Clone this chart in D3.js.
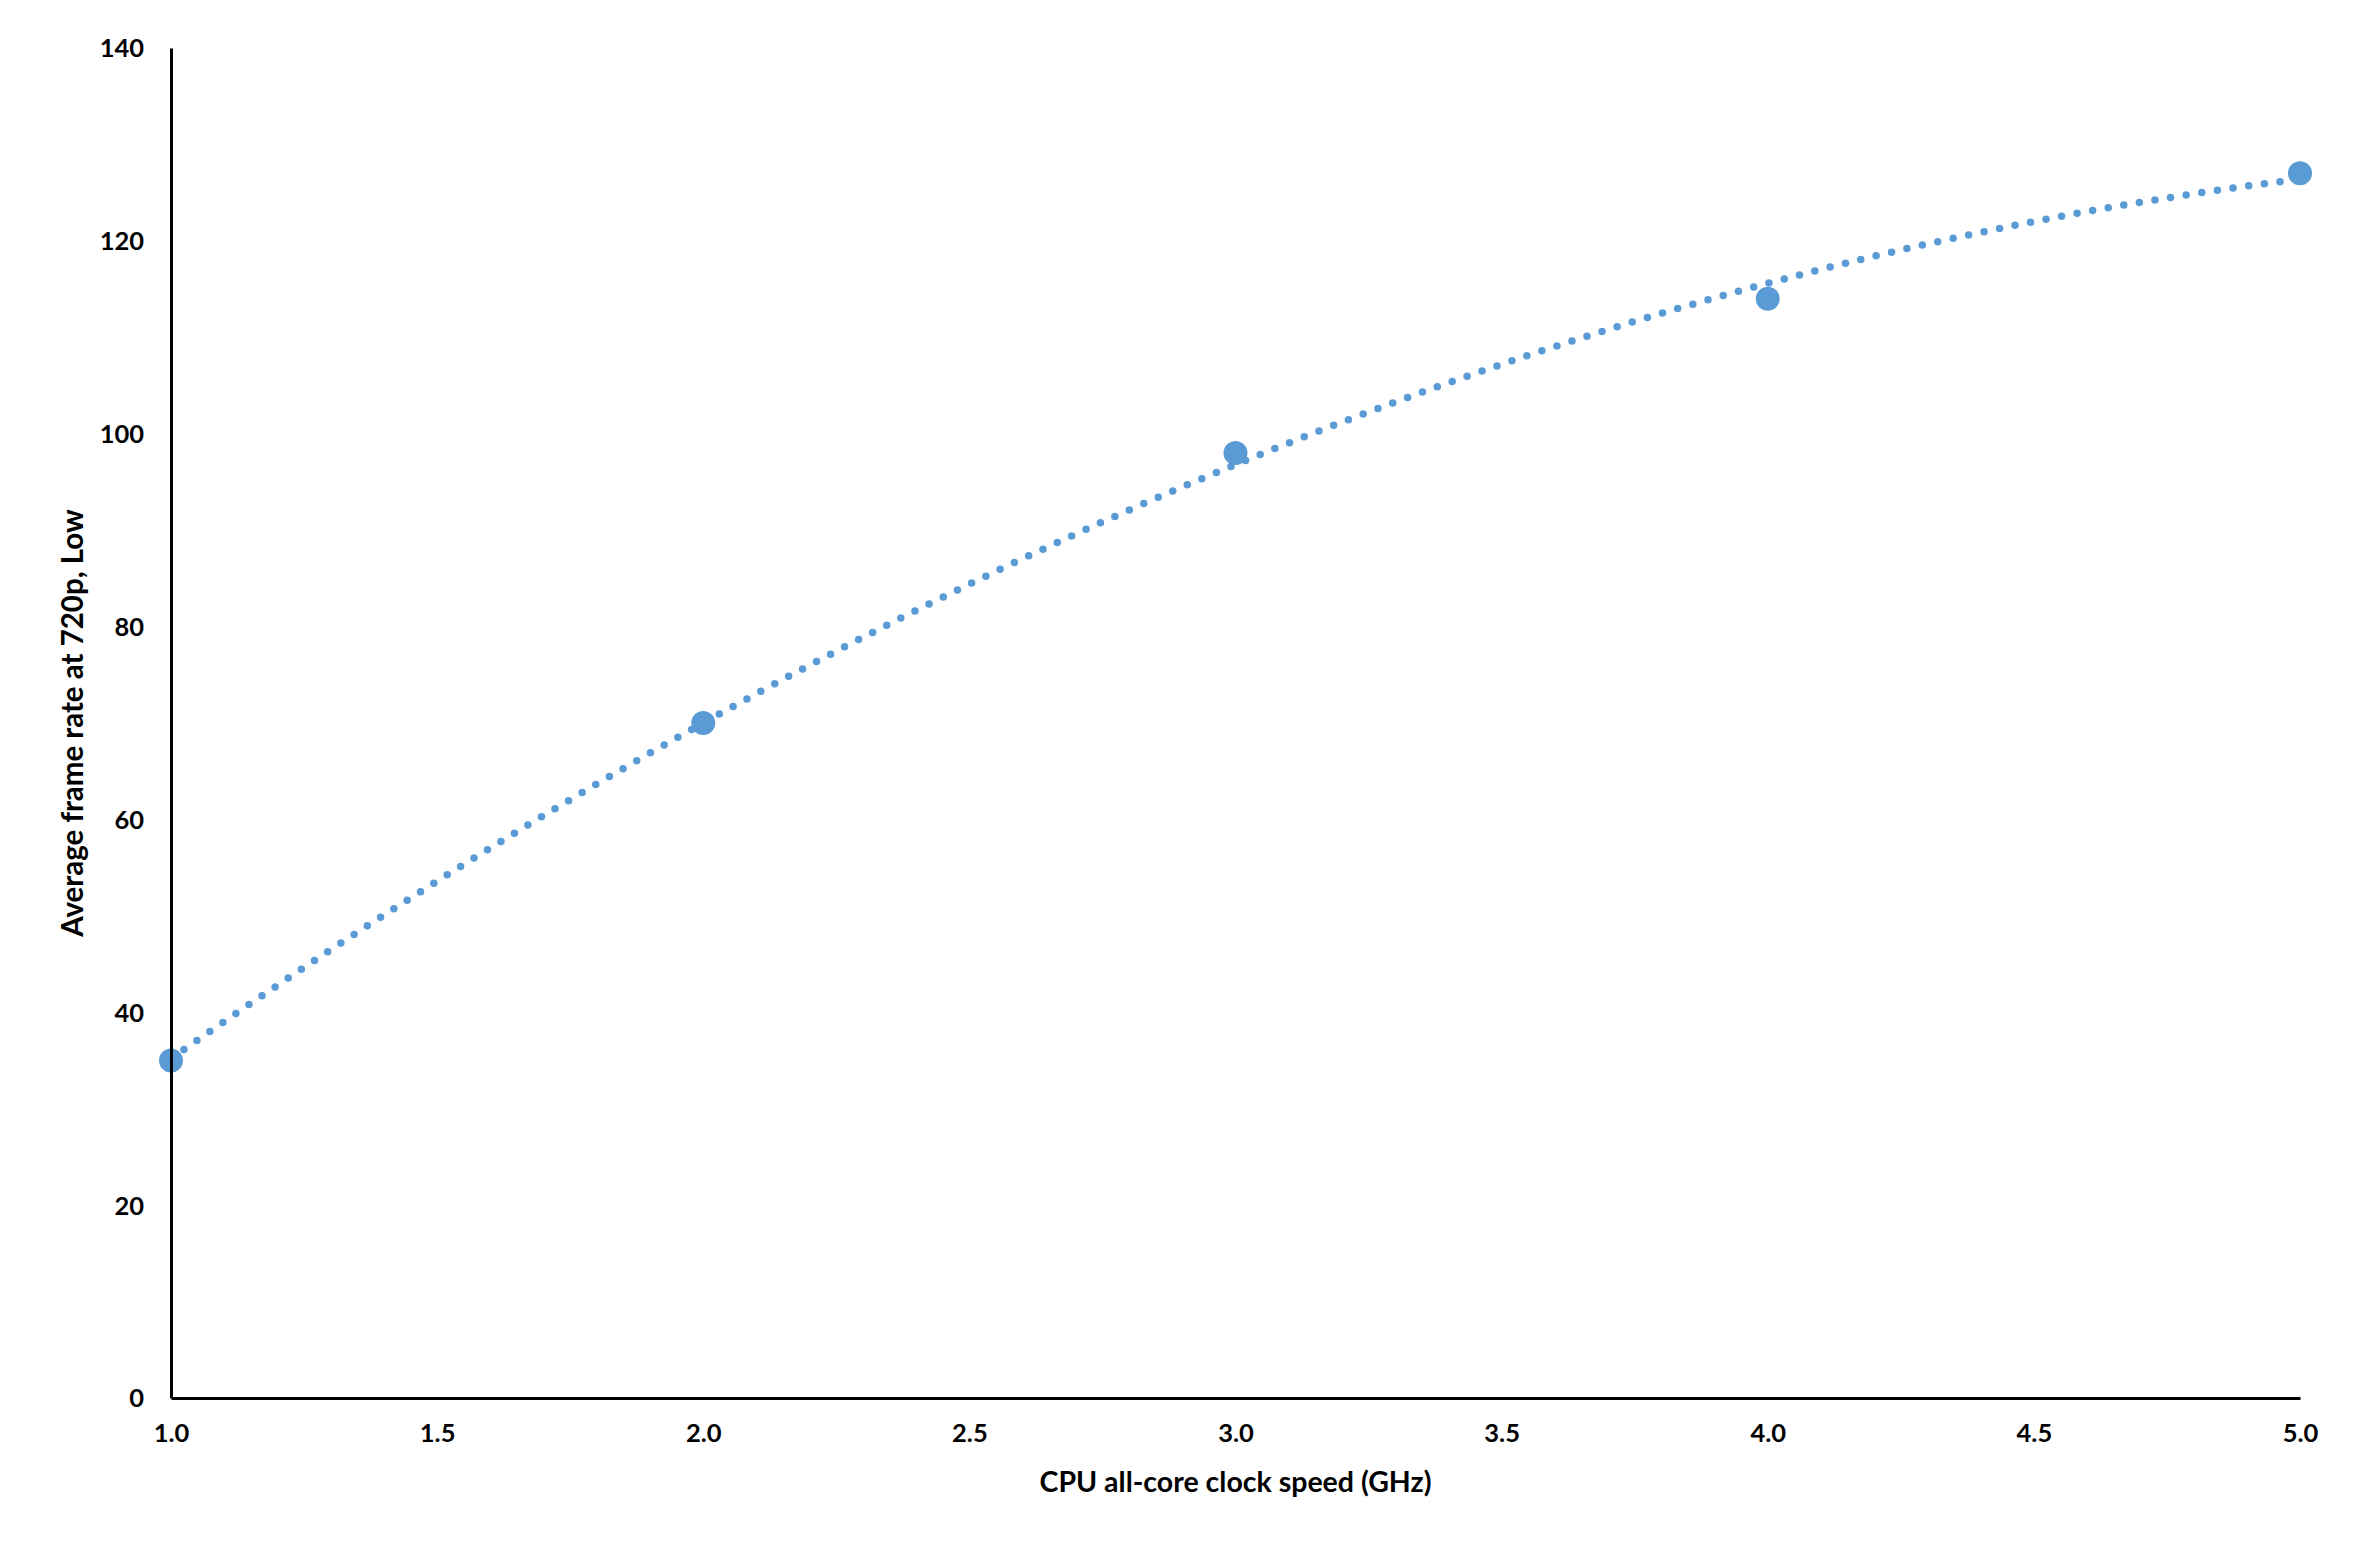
<!DOCTYPE html>
<meta charset="utf-8">
<head>
	<style>
		body {
			margin: 0;
			background: white;
			font-family: Lato, "Open Sans", sans-serif;
		}
		.tick text {
			font-weight: bold;
		}
	</style>
	<script src="https://cdn.jsdelivr.net/npm/d3@7"></script>
</head>
<body>
	<svg id="chart"></svg>
</body>
<script>

	// clock speed in GHz and measured average fps (720p, Low)
	let clockSpeeds = [1.0, 2.0, 3.0, 4.0, 5.0]
	let frameRates = [35, 70, 98, 114, 127]

	let xTicks = [1.0, 1.5, 2.0, 2.5, 3.0, 3.5, 4.0, 4.5, 5.0]
	let yTicks = [0, 20, 40, 60, 80, 100, 120, 140]

	let xTitle = "CPU all-core clock speed (GHz)"
	let yTitle = "Average frame rate at 720p, Low"

	let blue = "#5B9BD5"

	function getConfig() {
		let width = 2365
		let height = 1551
		let margin = {
			top: 48,
			bottom: 153,
			left: 171,
			right: 65
		}
		let bodyHeight = height - margin.top - margin.bottom
		let bodyWidth = width - margin.left - margin.right

		let container = d3.select("#chart")
			.attr("width", width)
			.attr("height", height)

		return { width, height, margin, bodyHeight, bodyWidth, container }
	}

	function getScales(config) {
		let { bodyWidth, bodyHeight } = config
		let xScale = d3.scaleLinear()
			.domain([1, 5])
			.range([0, bodyWidth])
		let yScale = d3.scaleLinear()
			.domain([0, 140])
			.range([bodyHeight, 0])
		return { xScale, yScale }
	}

	// Excel style 2nd order polynomial trendline (least squares)
	function polyFit(xs, ys) {
		let n = xs.length
		let s = [0, 0, 0, 0, 0], t = [0, 0, 0]
		for (let i = 0; i < n; i++) {
			for (let k = 0; k < 5; k++) s[k] += Math.pow(xs[i], k)
			for (let k = 0; k < 3; k++) t[k] += ys[i] * Math.pow(xs[i], k)
		}
		let m = [
			[s[0], s[1], s[2], t[0]],
			[s[1], s[2], s[3], t[1]],
			[s[2], s[3], s[4], t[2]]
		]
		// gaussian elimination
		for (let i = 0; i < 3; i++) {
			for (let j = i + 1; j < 3; j++) {
				let f = m[j][i] / m[i][i]
				for (let k = i; k < 4; k++) m[j][k] -= f * m[i][k]
			}
		}
		let c = [0, 0, 0]
		for (let i = 2; i >= 0; i--) {
			let v = m[i][3]
			for (let k = i + 1; k < 3; k++) v -= m[i][k] * c[k]
			c[i] = v / m[i][i]
		}
		return x => c[0] + c[1] * x + c[2] * x * x
	}

	function drawAxes(scales, config) {
		let { xScale, yScale } = scales
		let { container, margin, bodyHeight, bodyWidth } = config

		let axisY = d3.axisLeft(yScale)
			.tickValues(yTicks)
			.tickSize(0)
			.tickPadding(27)
			.tickFormat(d3.format("d"))
		let gy = container.append("g")
			.attr("transform", `translate(${margin.left},${margin.top})`)
			.call(axisY)

		let axisX = d3.axisBottom(xScale)
			.tickValues(xTicks)
			.tickSize(0)
			.tickPadding(26)
			.tickFormat(d3.format(".1f"))
		let gx = container.append("g")
			.attr("transform", `translate(${margin.left},${margin.top + bodyHeight})`)
			.call(axisX)

		for (let g of [gx, gy]) {
			g.selectAll(".domain")
				.attr("stroke", "black")
				.attr("stroke-width", 3)
			g.selectAll("text")
				.attr("font-size", 25.5)
				.attr("font-family", "Lato, sans-serif")
				.attr("fill", "black")
		}
		gy.selectAll("text").attr("dy", "0.35em")

		container.append("text")
			.attr("x", margin.left + bodyWidth / 2)
			.attr("y", margin.top + bodyHeight + 94)
			.attr("text-anchor", "middle")
			.attr("font-size", 28.5)
			.attr("font-weight", "bold")
			.text(xTitle)

		container.append("text")
			.attr("transform", `translate(83,${margin.top + bodyHeight / 2}) rotate(-90)`)
			.attr("text-anchor", "middle")
			.attr("font-size", 29.5)
			.attr("font-weight", "bold")
			.text(yTitle)
	}

	function drawSeries(scales, config) {
		let { xScale, yScale } = scales
		let { container, margin } = config
		let body = container.append("g")
			.attr("transform", `translate(${margin.left},${margin.top})`)

		let trend = polyFit(clockSpeeds, frameRates)
		let lo = d3.min(clockSpeeds), hi = d3.max(clockSpeeds)
		let steps = d3.range(0, 201).map(i => lo + (hi - lo) * i / 200)

		let line = d3.line()
			.x(d => xScale(d))
			.y(d => yScale(trend(d)))

		body.append("path")
			.datum(steps)
			.attr("d", line)
			.attr("fill", "none")
			.attr("stroke", blue)
			.attr("stroke-width", 7.5)
			.attr("stroke-linecap", "round")
			.attr("stroke-dasharray", "0 15.8")

		body.selectAll(".point")
			.data(clockSpeeds)
			.enter()
			.append("circle")
			.classed("point", true)
			.attr("cx", d => xScale(d))
			.attr("cy", (d, i) => yScale(frameRates[i]))
			.attr("r", 12)
			.attr("fill", blue)
	}

	let config = getConfig()
	let scales = getScales(config)
	drawSeries(scales, config)
	drawAxes(scales, config)

</script>
